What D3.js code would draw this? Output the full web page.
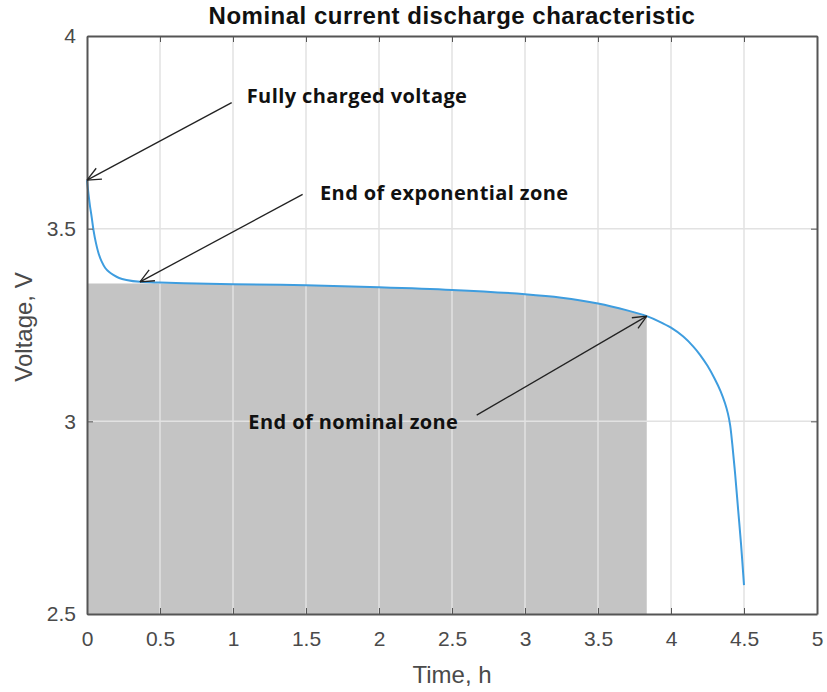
<!DOCTYPE html>
<html>
<head>
    <meta http-equiv="Content-Type" content="text/html;charset=utf-8">
    <title>Nominal current discharge characteristic</title>
    <script type="text/javascript" src="https://d3js.org/d3.v7.min.js"></script>
    <style>
        html, body {
            margin: 0;
            padding: 0;
            background: #fff;
        }
        text {
            font-family: "Liberation Sans", Arial, sans-serif;
        }
        text.title {
            font-size: 24px;
            font-weight: bold;
            letter-spacing: 0.5px;
            fill: #111;
        }
        text.axisLabel {
            font-size: 24px;
            fill: #4a4a4a;
        }
        .axis text {
            font-family: "Liberation Sans", Arial, sans-serif;
            font-size: 21px;
            fill: #4a4a4a;
        }
        .axis path, .axis line {
            stroke: #555;
        }
        .grid line {
            stroke: #e2e2e2;
            stroke-width: 1.5px;
        }
        path.line {
            fill: none;
            stroke: #3e9ddf;
            stroke-width: 2px;
        }
        path.zone {
            fill: #c4c4c4;
        }
        text.anno {
            font-family: "Open Sans", Lato, sans-serif;
            font-weight: bold;
            font-size: 20px;
            letter-spacing: 0.4px;
            fill: #111;
        }
        line.arrow {
            stroke: #222;
            stroke-width: 1.3px;
        }
    </style>
</head>
<body>
<script type="text/javascript">

    // discharge curve (time in h, voltage in V)
    var timeH = [0, 0.01, 0.02, 0.032, 0.045, 0.06, 0.08, 0.1, 0.125, 0.15, 0.18, 0.22, 0.27, 0.363,
        0.5, 0.75, 1, 1.5, 2, 2.5, 3, 3.25, 3.5, 3.7, 3.834, 3.92, 4.0, 4.084, 4.153, 4.2, 4.25, 4.3,
        4.34, 4.37, 4.39, 4.405, 4.42, 4.44, 4.46, 4.48, 4.5];
    var voltage = [3.626, 3.59, 3.56, 3.53, 3.495, 3.465, 3.435, 3.415, 3.398, 3.388, 3.38, 3.372, 3.367, 3.362,
        3.36, 3.358, 3.356, 3.353, 3.348, 3.341, 3.330, 3.321, 3.306, 3.288, 3.273, 3.259, 3.243, 3.220, 3.194, 3.172, 3.144, 3.110,
        3.078, 3.047, 3.020, 2.990, 2.940, 2.860, 2.770, 2.680, 2.575];

    var xTicks = [0, 0.5, 1, 1.5, 2, 2.5, 3, 3.5, 4, 4.5, 5];
    var yTicks = [2.5, 3, 3.5, 4];

    // zones
    var nominalEndT = 3.834;
    var expLevelV = 3.358;

    // annotations: label, arrow tip index into the curve, arrow tail and text anchor (data units)
    var annoText = ["Fully charged voltage", "End of exponential zone", "End of nominal zone"];
    var annoTipIdx = [0, 13, 24];
    var annoTailT = [0.991, 1.477, 2.669];
    var annoTailV = [3.827, 3.589, 3.016];
    var annoTextT = [1.094, 1.596, 1.105];
    var annoTextV = [3.825, 3.574, 2.979];

    var W = 827, H = 692;
    var plot = {left: 87, right: 817, top: 36, bottom: 614};

    var svg = d3.select("body").append("svg").attr("width", W).attr("height", H);

    var x = d3.scaleLinear().domain([0, 5]).range([plot.left, plot.right]);
    var y = d3.scaleLinear().domain([2.5, 4]).range([plot.bottom, plot.top]);

    var points = timeH.map(function(t, i) { return {t: t, v: voltage[i]}; });

    // shaded nominal zone: under the curve, capped at the exponential zone level
    var zonePts = points.filter(function(d) { return d.t <= nominalEndT; })
        .map(function(d) { return {t: d.t, v: Math.min(d.v, expLevelV)}; });
    var area = d3.area()
        .x(function(d) { return x(d.t); })
        .y0(y(2.5))
        .y1(function(d) { return y(d.v); })
        .curve(d3.curveMonotoneX);
    svg.append("path").attr("class", "zone").attr("d", area(zonePts));

    // grid on top of the shading
    var grid = svg.append("g").attr("class", "grid");
    grid.selectAll(".gx").data(xTicks.slice(1, -1)).enter().append("line")
        .attr("x1", function(d) { return x(d); }).attr("x2", function(d) { return x(d); })
        .attr("y1", plot.top).attr("y2", plot.bottom);
    grid.selectAll(".gy").data(yTicks.slice(1, -1)).enter().append("line")
        .attr("y1", function(d) { return y(d); }).attr("y2", function(d) { return y(d); })
        .attr("x1", plot.left).attr("x2", plot.right);

    // curve
    var line = d3.line()
        .x(function(d) { return x(d.t); })
        .y(function(d) { return y(d.v); })
        .curve(d3.curveCatmullRom.alpha(0.5));
    svg.append("path").attr("class", "line").attr("d", line(points));

    // axes (ticks inward, box all round)
    var fmt = function(d) { return String(d); };
    svg.append("g").attr("class", "axis x")
        .attr("transform", "translate(0," + plot.bottom + ")")
        .call(d3.axisBottom(x).tickValues(xTicks).tickFormat(fmt).tickSizeInner(-6).tickSizeOuter(0).tickPadding(17))
        .call(function(g) { g.select(".domain").attr("stroke-width", 2); });
    svg.append("g").attr("class", "axis x2")
        .attr("transform", "translate(0," + plot.top + ")")
        .call(d3.axisTop(x).tickValues(xTicks).tickFormat("").tickSizeInner(-6).tickSizeOuter(0))
        .call(function(g) { g.select(".domain").attr("stroke-width", 2); });
    svg.append("g").attr("class", "axis y")
        .attr("transform", "translate(" + plot.left + ",0)")
        .call(d3.axisLeft(y).tickValues(yTicks).tickFormat(fmt).tickSizeInner(-6).tickSizeOuter(0).tickPadding(11))
        .call(function(g) { g.select(".domain").attr("stroke-width", 2); });
    svg.append("g").attr("class", "axis y2")
        .attr("transform", "translate(" + plot.right + ",0)")
        .call(d3.axisRight(y).tickValues(yTicks).tickFormat("").tickSizeInner(-6).tickSizeOuter(0))
        .call(function(g) { g.select(".domain").attr("stroke-width", 2); });

    // title and axis labels
    svg.append("text").attr("class", "title")
        .attr("x", (plot.left + plot.right) / 2).attr("y", 24)
        .attr("text-anchor", "middle")
        .text("Nominal current discharge characteristic");
    svg.append("text").attr("class", "axisLabel")
        .attr("x", (plot.left + plot.right) / 2).attr("y", 683)
        .attr("text-anchor", "middle")
        .text("Time, h");
    svg.append("text").attr("class", "axisLabel")
        .attr("transform", "translate(32," + ((plot.top + plot.bottom) / 2 + 2) + ") rotate(-90)")
        .attr("text-anchor", "middle")
        .text("Voltage, V");

    // annotations with open arrowheads
    var headLen = 15, headAng = 0.42;
    annoText.forEach(function(label, i) {
        var tip = points[annoTipIdx[i]];
        var tx = x(tip.t), ty = y(tip.v);
        var sx = x(annoTailT[i]), sy = y(annoTailV[i]);
        var ang = Math.atan2(sy - ty, sx - tx);
        var g = svg.append("g").attr("class", "annotation");
        g.append("line").attr("class", "arrow")
            .attr("x1", sx).attr("y1", sy).attr("x2", tx).attr("y2", ty);
        [-headAng, headAng].forEach(function(a) {
            g.append("line").attr("class", "arrow")
                .attr("x1", tx).attr("y1", ty)
                .attr("x2", tx + headLen * Math.cos(ang + a))
                .attr("y2", ty + headLen * Math.sin(ang + a));
        });
        g.append("text").attr("class", "anno")
            .attr("x", x(annoTextT[i])).attr("y", y(annoTextV[i]))
            .text(label);
    });

</script>
</body>
</html>
